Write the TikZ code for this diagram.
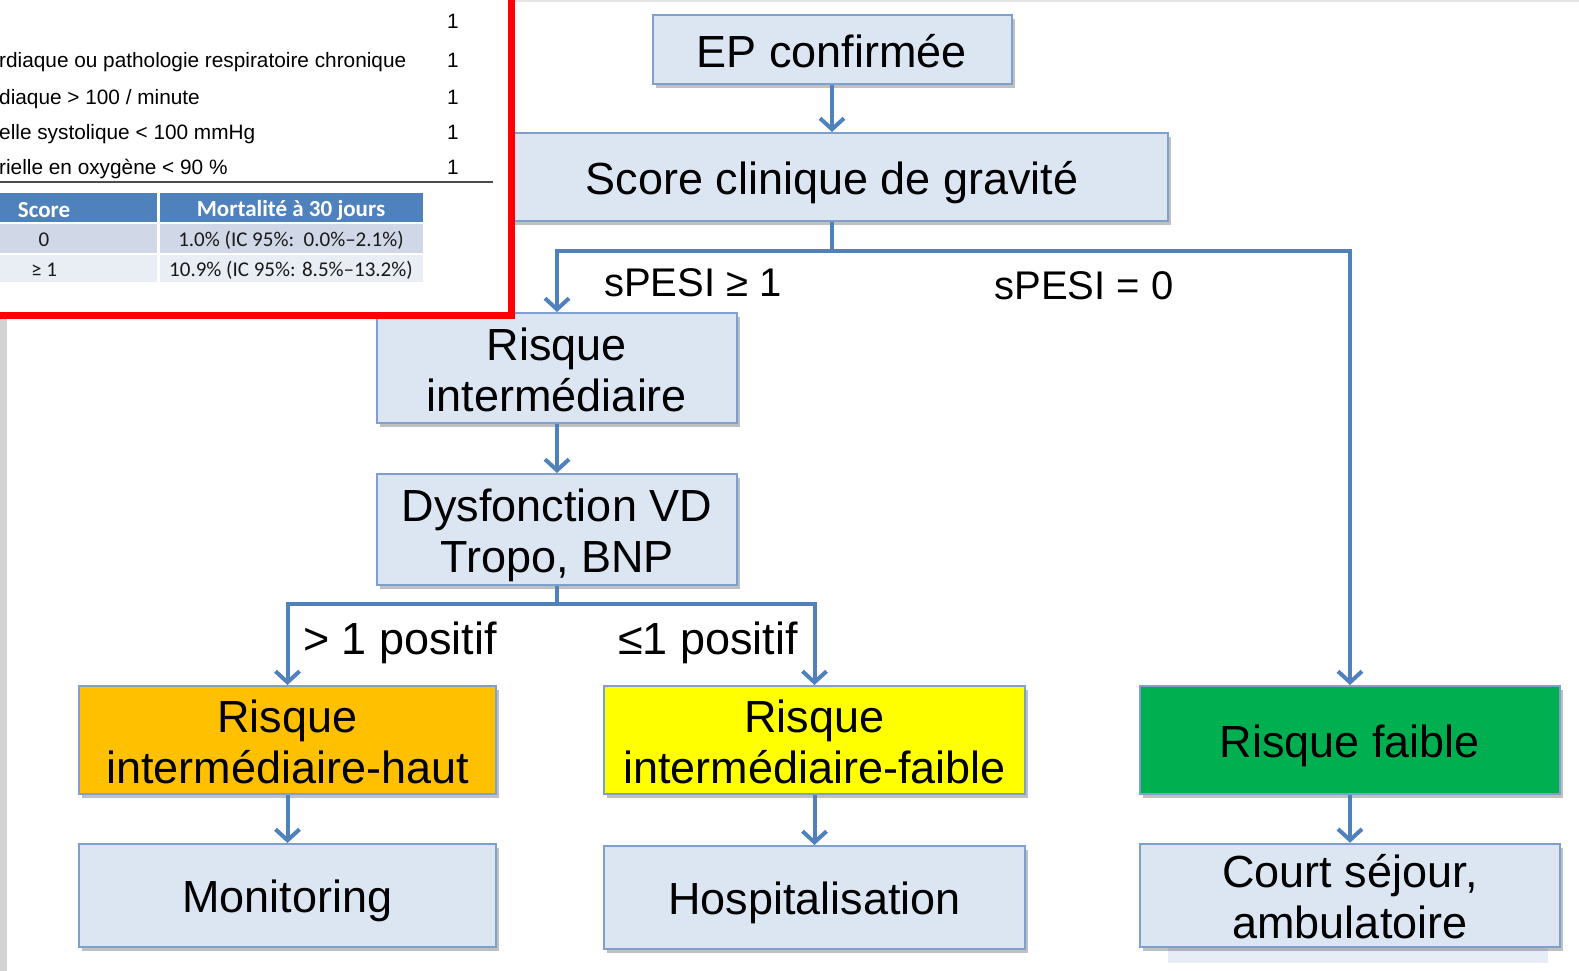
\documentclass[tikz,border=0pt]{standalone}
\usepackage{fontspec}
\setmainfont{Liberation Sans}
\newfontfamily\tabfont{Carlito}
\usetikzlibrary{arrows.meta,shadows}
\definecolor{boxfill}{HTML}{DCE6F2}
\definecolor{boxline}{HTML}{7F9FCC}
\definecolor{arrowc}{HTML}{4F81BD}
\definecolor{hdr}{HTML}{4F81BD}
\definecolor{rowa}{HTML}{D0D8E8}
\definecolor{rowb}{HTML}{E9EDF4}
\definecolor{orangebox}{HTML}{FFC000}
\definecolor{yellowbox}{HTML}{FFFF00}
\definecolor{greenbox}{HTML}{00B050}
\definecolor{redframe}{HTML}{FF0000}
\newcommand\topstrut{\rule{0pt}{44pt}}
\newcommand\botstrut{\rule[-8.5pt]{0pt}{8.5pt}}
\tikzset{
  box/.style={draw=boxline, line width=2pt, fill=boxfill, align=center, inner sep=0pt,
    font=\fontsize{45}{51}\selectfont,
    drop shadow={shadow xshift=3pt, shadow yshift=-4pt, opacity=0.35, fill=black!70}},
  conn/.style={draw=arrowc, line width=4pt},
  arr/.style={conn, -{Straight Barb[length=11pt,width=24pt]}},
  lblsmall/.style={inner sep=0pt, font=\fontsize{40}{46}\selectfont},
  lblbig/.style={inner sep=0pt, font=\fontsize{45}{51}\selectfont},
  crit/.style={inner sep=0pt, anchor=west, font=\fontsize{20.8}{24}\selectfont, text height=14.7pt, text depth=4.3pt},
  pts/.style={inner sep=0pt, font=\fontsize{20.8}{24}\selectfont, text height=14.7pt, text depth=4.3pt},
  thead/.style={inner sep=0pt, text=white, font=\tabfont\bfseries\fontsize{23}{26}\selectfont},
  tcell/.style={inner sep=0pt, text=black!90, font=\tabfont\fontsize{21}{24}\selectfont}
}
\begin{document}
\begin{tikzpicture}[x=1pt,y=-1pt]
\useasboundingbox (0,0) rectangle (1579,971);
\clip (0,0) rectangle (1579,971);
\fill[white] (0,0) rectangle (1579,971);
% texture strips at the edges
\fill[black!17] (0,319) rectangle (7,971);
\fill[black!10] (514,0) rectangle (1579,2.5);
% faint strip under the last box
\fill[boxfill!70] (1168,947) rectangle (1548,963);

% boxes
\node[box, minimum width=359pt, minimum height=69pt] (ep) at (832,49.5) {\topstrut\botstrut EP confirmée};
\node[box, minimum width=672pt, minimum height=88pt] (score) at (832,177) {\topstrut\botstrut Score clinique de gravité};
\node[box, minimum width=360pt, minimum height=110pt] (ri) at (557,368) {\topstrut Risque\\\botstrut intermédiaire};
\node[box, minimum width=360pt, minimum height=111pt] (dvd) at (557,529.5) {\topstrut Dysfonction VD\\\botstrut Tropo, BNP};
\node[box, fill=orangebox, minimum width=417pt, minimum height=108pt] (rih) at (287.5,740) {\topstrut Risque\\\botstrut intermédiaire-haut};
\node[box, fill=yellowbox, minimum width=421pt, minimum height=108pt] (rif) at (814.5,740) {\topstrut Risque\\\botstrut intermédiaire-faible};
\node[box, fill=greenbox, minimum width=420pt, minimum height=108pt] (rf) at (1350,740) {\topstrut\botstrut Risque faible};
\node[box, minimum width=417pt, minimum height=103pt] (mon) at (287.5,895.5) {\topstrut\botstrut Monitoring};
\node[box, minimum width=421pt, minimum height=103pt] (hosp) at (814.5,897.5) {\topstrut\botstrut Hospitalisation};
\node[box, minimum width=420pt, minimum height=103pt] (court) at (1350,895.5) {\topstrut Court séjour,\\\botstrut ambulatoire};

% connectors
\coordinate (j1) at (832,251);
\coordinate (j2) at (557,604);
\draw[arr] (ep.south) -- (score.north);
\draw[conn] (score.south) -- (j1);
\draw[arr] (j1) -| (ri.north);
\draw[arr] (j1) -| (rf.north);
\draw[arr] (ri.south) -- (dvd.north);
\draw[conn] (dvd.south) -- (j2);
\draw[arr] (j2) -| (rih.north);
\draw[arr] (j2) -| (rif.north);
\draw[arr] (rih.south) -- (mon.north);
\draw[arr] (rif.south) -- (hosp.north);
\draw[arr] (rf.south) -- (court.north);

% labels
\node[lblsmall] (s1) at (693,283) {sPESI ≥ 1};
\node[lblsmall] (s0) at (1084,286) {sPESI = 0};
\node[lblbig] (p1) at (400,643) {> 1 positif};
\node[lblbig] (p2) at (708,643) {≤1 positif};

% red framed inset
\draw[redframe, line width=7pt, fill=white] (-30,-30) rectangle (511,315.5);
\node[crit] (c2) at (-1,62) {rdiaque ou pathologie respiratoire chronique};
\node[crit] (c3) at (-1,99.2) {diaque > 100 / minute};
\node[crit] (c4) at (-1,134.5) {elle systolique < 100 mmHg};
\node[crit] (c5) at (-1,169.5) {rielle en oxygène < 90 \%};
\node[pts] (n1) at (453,23.5) {1};
\node[pts] (n2) at (453,62) {1};
\node[pts] (n3) at (453,99.2) {1};
\node[pts] (n4) at (453,134.5) {1};
\node[pts] (n5) at (453,169.5) {1};
\draw[line width=1.5pt, black!70] (-5,182) -- (493,182);

\fill[hdr] (-5,193) rectangle (157,221.5);
\fill[hdr] (159.5,193) rectangle (423,221.5);
\fill[rowa] (-5,223.5) rectangle (157,252.5);
\fill[rowa] (159.5,223.5) rectangle (423,252.5);
\fill[rowb] (-5,254.5) rectangle (157,282);
\fill[rowb] (159.5,254.5) rectangle (423,282);
\node[thead] (h1) at (44,210) {Score};
\node[thead] (h2) at (291,210) {Mortalité à 30 jours};
\node[tcell] (r1a) at (44,240) {0};
\node[tcell] (r1b) at (291,240) {1.0\% (IC 95\%:\ \ 0.0\%–2.1\%)};
\node[tcell] (r2a) at (44,270) {≥ 1};
\node[tcell] (r2b) at (291,270) {10.9\% (IC 95\%: 8.5\%–13.2\%)};
\end{tikzpicture}
\end{document}
